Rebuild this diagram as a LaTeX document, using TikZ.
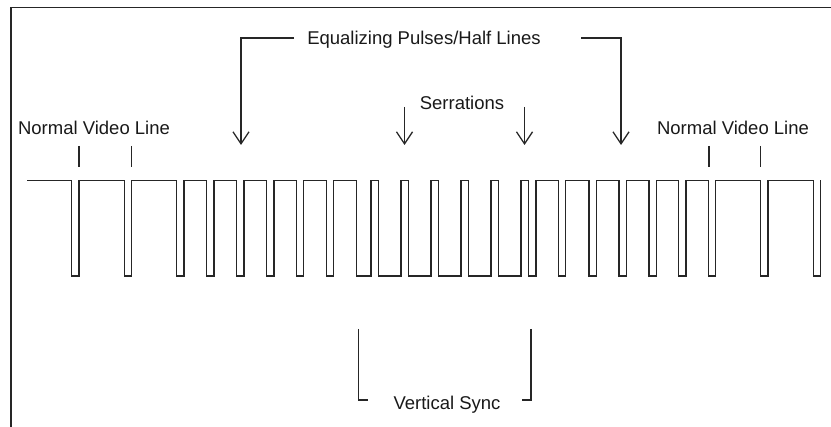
\documentclass[tikz,border=0pt]{standalone}
\usepackage{fontspec}
\setmainfont{Liberation Sans}
\usetikzlibrary{arrows.meta}
\begin{document}
\begin{tikzpicture}[x=1pt,y=-1pt,
  ink/.style={draw=black!85,line width=1.3pt},
  wave/.style={ink,line join=miter},
  pointer/.style={ink,-{Straight Barb[length=12pt,width=16pt,line width=1.3pt]}},
  label/.style={inner sep=0pt,anchor=base,text=black!90,font=\fontsize{18.5}{22}\selectfont}]
\useasboundingbox (0,0) rectangle (831,427);

% outer frame (cropped)
\draw[ink] (11,427) |- (831,7.5);

% levels of the sync waveform
\def\hi{180.5}
\def\lo{276}

% composite vertical sync waveform
\draw[wave] (27,\hi)
  foreach \x in {71.7,124.5,176.7,206.7,236.7,266.7,296.5,326.5}
    { -- (\x,\hi) -- (\x,\lo) -- ({\x+7.3},\lo) -- ({\x+7.3},\hi) }
  -- (356.5,\hi) -- (356.5,\lo)
  foreach \s in {371,401,431,461,491,521}
    { -- (\s,\lo) -- (\s,\hi) -- ({\s+7.7},\hi) -- ({\s+7.7},\lo) }
  -- (536,\lo) -- (536,\hi)
  foreach \x in {558.5,589,619,649,678.7,708.5,760.7,813.3}
    { -- (\x,\hi) -- (\x,\lo) -- ({\x+7.3},\lo) -- ({\x+7.3},\hi) };

% labels
\node[label] (eq)  at (424,45) {Equalizing Pulses/Half Lines};
\node[label] (ser) at (462,110) {Serrations};
\node[label] (nvl) at (94,135) {Normal Video Line};
\node[label] (nvr) at (733,135) {Normal Video Line};
\node[label] (vs)  at (447,410) {Vertical Sync};

% equalizing pulse pointers
\coordinate (eqLa) at (294,38);
\coordinate (eqLb) at (241,38);
\coordinate (eqLc) at (241,145);
\coordinate (eqRa) at (581,38);
\coordinate (eqRb) at (621,38);
\coordinate (eqRc) at (621,145);
\draw[pointer] (eqLa) -- (eqLb) -- (eqLc);
\draw[pointer] (eqRa) -- (eqRb) -- (eqRc);

% serration pointers
\coordinate (serLa) at (404.5,107);
\coordinate (serLb) at (404.5,145);
\coordinate (serRa) at (524.5,107);
\coordinate (serRb) at (524.5,145);
\draw[pointer] (serLa) -- (serLb);
\draw[pointer] (serRa) -- (serRb);

% normal line ticks
\foreach \t/\xx in {a/79,b/131.8,c/709,d/760.7}{
  \coordinate (tk\t1) at (\xx,146);
  \coordinate (tk\t2) at (\xx,167);
  \draw[ink] (tk\t1) -- (tk\t2);
}

% vertical sync bracket
\coordinate (vsL1) at (358.3,329);
\coordinate (vsL2) at (358.3,400);
\coordinate (vsL3) at (368,400);
\coordinate (vsR1) at (531,329);
\coordinate (vsR2) at (531,400);
\coordinate (vsR3) at (521.5,400);
\draw[ink] (vsL1) -- (vsL2) -- (vsL3);
\draw[ink] (vsR1) -- (vsR2) -- (vsR3);
\end{tikzpicture}
\end{document}
